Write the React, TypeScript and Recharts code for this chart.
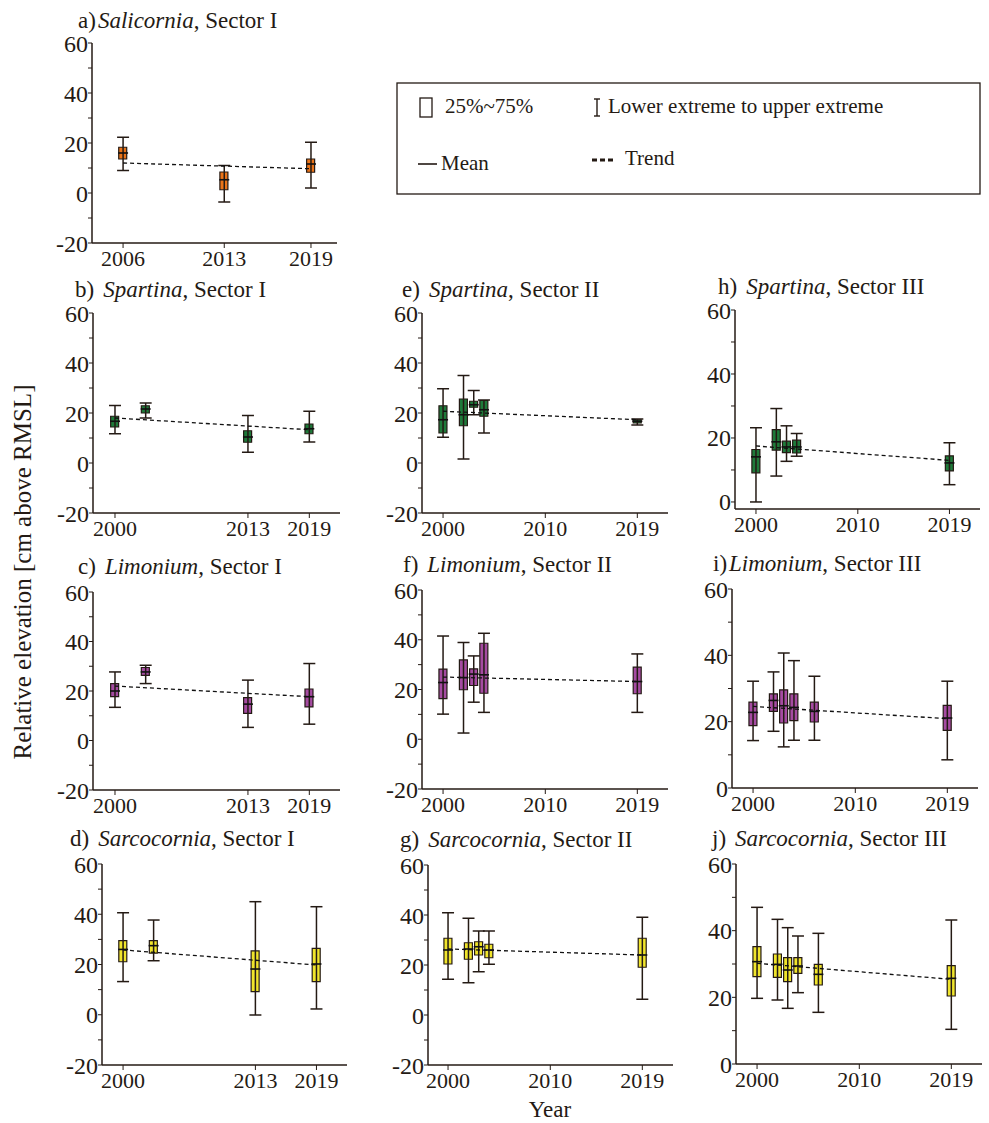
import React from 'react';
import { ComposedChart, XAxis, YAxis, Bar, Scatter, Line, ErrorBar } from 'recharts';

type Box = { year: number; min: number; q1: number; mean: number; q3: number; max: number };
type TrendPt = { year: number; value: number };

const salicorniaI: Box[] = [
  { year: 2006, min: 9, q1: 13.6, mean: 16, q3: 18.3, max: 22.3 },
  { year: 2013, min: -3.6, q1: 1.3, mean: 5.3, q3: 8.4, max: 11 },
  { year: 2019, min: 2, q1: 8.3, mean: 11.6, q3: 13.6, max: 20.3 },
];
const trendA: TrendPt[] = [{ year: 2006, value: 12 }, { year: 2019, value: 9.7 }];

const spartinaI: Box[] = [
  { year: 2000, min: 11.7, q1: 14.4, mean: 16.7, q3: 18.7, max: 23 },
  { year: 2003, min: 18, q1: 20, mean: 21.6, q3: 22.9, max: 24 },
  { year: 2013, min: 4.3, q1: 8.3, mean: 10.4, q3: 12.9, max: 19 },
  { year: 2019, min: 8.4, q1: 11.7, mean: 13.7, q3: 15.6, max: 20.7 },
];
const trendB: TrendPt[] = [{ year: 2000, value: 18 }, { year: 2019, value: 13.3 }];

const limoniumI: Box[] = [
  { year: 2000, min: 13.4, q1: 17.7, mean: 20, q3: 23, max: 27.7 },
  { year: 2003, min: 23, q1: 26.3, mean: 27.7, q3: 29.5, max: 30.4 },
  { year: 2013, min: 5.3, q1: 11, mean: 14.7, q3: 17.3, max: 24.4 },
  { year: 2019, min: 6.6, q1: 13.6, mean: 17.7, q3: 20.8, max: 31.1 },
];
const trendC: TrendPt[] = [{ year: 2000, value: 22 }, { year: 2019, value: 17.7 }];

const sarcocorniaI: Box[] = [
  { year: 2000, min: 13.2, q1: 21.1, mean: 26, q3: 29.5, max: 40.6 },
  { year: 2003, min: 21.5, q1: 24.5, mean: 27.5, q3: 29.5, max: 37.7 },
  { year: 2013, min: -0.1, q1: 9.2, mean: 18.2, q3: 25.4, max: 45 },
  { year: 2019, min: 2.3, q1: 13.2, mean: 20.2, q3: 26.4, max: 43 },
];
const trendD: TrendPt[] = [{ year: 2000, value: 25.8 }, { year: 2019, value: 19.8 }];

const spartinaII: Box[] = [
  { year: 2000, min: 10.3, q1: 12, mean: 17.3, q3: 22.9, max: 29.7 },
  { year: 2002, min: 1.6, q1: 14.9, mean: 19.3, q3: 25.6, max: 35 },
  { year: 2003, min: 19.3, q1: 22.3, mean: 23.3, q3: 24.7, max: 29 },
  { year: 2004, min: 12, q1: 18.7, mean: 21.3, q3: 25, max: 25.2 },
  { year: 2019, min: 15.2, q1: 16, mean: 16.7, q3: 17.3, max: 17.6 },
];
const trendE: TrendPt[] = [{ year: 2000, value: 20.7 }, { year: 2019, value: 17.3 }];

const limoniumII: Box[] = [
  { year: 2000, min: 10.1, q1: 16.3, mean: 22.8, q3: 28.2, max: 41.5 },
  { year: 2002, min: 2.5, q1: 19.9, mean: 24.8, q3: 31.9, max: 38.9 },
  { year: 2003, min: 14.9, q1: 21.6, mean: 26.2, q3: 28.3, max: 33.5 },
  { year: 2004, min: 10.8, q1: 18.5, mean: 25.9, q3: 38.6, max: 42.6 },
  { year: 2019, min: 10.8, q1: 18.3, mean: 23.2, q3: 29, max: 34.3 },
];
const trendF: TrendPt[] = [{ year: 2000, value: 25 }, { year: 2019, value: 23.2 }];

const sarcocorniaII: Box[] = [
  { year: 2000, min: 14.3, q1: 20.4, mean: 26, q3: 30.7, max: 40.9 },
  { year: 2002, min: 12.9, q1: 22.3, mean: 26.4, q3: 28.9, max: 38.7 },
  { year: 2003, min: 17.3, q1: 24, mean: 27.3, q3: 29.3, max: 33.6 },
  { year: 2004, min: 20.3, q1: 22.9, mean: 26, q3: 28.3, max: 33.6 },
  { year: 2019, min: 6.3, q1: 19.1, mean: 24, q3: 30.7, max: 39.1 },
];
const trendG: TrendPt[] = [{ year: 2000, value: 26.4 }, { year: 2019, value: 24 }];

const spartinaIII: Box[] = [
  { year: 2000, min: 0, q1: 9.1, mean: 14.1, q3: 16.4, max: 23.2 },
  { year: 2002, min: 8.1, q1: 16.2, mean: 18.8, q3: 22.6, max: 29.2 },
  { year: 2003, min: 12.7, q1: 15.4, mean: 17.2, q3: 19, max: 23.8 },
  { year: 2004, min: 14.3, q1: 15.3, mean: 17.2, q3: 19.3, max: 21.4 },
  { year: 2019, min: 5.4, q1: 9.7, mean: 12.2, q3: 14.4, max: 18.5 },
];
const trendH: TrendPt[] = [{ year: 2000, value: 17.5 }, { year: 2019, value: 13 }];

const limoniumIII: Box[] = [
  { year: 2000, min: 14.3, q1: 18.8, mean: 22.8, q3: 25.9, max: 32.2 },
  { year: 2002, min: 17.1, q1: 23.1, mean: 26.4, q3: 28.4, max: 35 },
  { year: 2003, min: 12.4, q1: 19.6, mean: 24.8, q3: 29.6, max: 40.7 },
  { year: 2004, min: 14.4, q1: 20.3, mean: 24.3, q3: 28.4, max: 38.4 },
  { year: 2006, min: 14.4, q1: 19.9, mean: 23.1, q3: 25.9, max: 33.7 },
  { year: 2019, min: 8.5, q1: 17.4, mean: 21.1, q3: 24.9, max: 32.2 },
];
const trendI: TrendPt[] = [{ year: 2000, value: 24.6 }, { year: 2019, value: 20.9 }];

const sarcocorniaIII: Box[] = [
  { year: 2000, min: 19.7, q1: 26.2, mean: 30.7, q3: 35.2, max: 47 },
  { year: 2002, min: 19.2, q1: 26, mean: 29.9, q3: 33, max: 43.4 },
  { year: 2003, min: 16.7, q1: 24.7, mean: 28.2, q3: 31.9, max: 40.9 },
  { year: 2004, min: 21.4, q1: 27.2, mean: 29.4, q3: 31.9, max: 38.4 },
  { year: 2006, min: 15.5, q1: 23.7, mean: 26.9, q3: 29.9, max: 39.2 },
  { year: 2019, min: 10.4, q1: 20.4, mean: 25.7, q3: 29.5, max: 43.2 },
];
const trendJ: TrendPt[] = [{ year: 2000, value: 30.2 }, { year: 2019, value: 25.4 }];

const ticksA = [2006, 2013, 2019];
const ticksSectorI = [2000, 2013, 2019];
const ticksSectorII = [2000, 2010, 2019];
const yTicksFull = [-20, -10, 0, 10, 20, 30, 40, 50, 60];
const yTicksZero = [0, 10, 20, 30, 40, 50, 60];

const ORANGE = '#EA7419';
const GREEN = '#1E7A3A';
const PURPLE = '#A54BA2';
const YELLOW = '#F0E52C';
const INK = '#241a14';
const FONT = '"Liberation Serif", "Times New Roman", serif';

const YW = 50;
const MT = 20;
const MR = 10;
const XH = 40;

const MeanMark = (props: any) => {
  const { cx, cy } = props;
  if (cx == null || cy == null) return <g />;
  return <line x1={cx - 5} x2={cx + 5} y1={cy} y2={cy} stroke="#111" strokeWidth={1.6} />;
};
const NoShape = () => <g />;

type PanelProps = {
  plotLeft: number;
  plotTop: number;
  plotW: number;
  plotH: number;
  xDomain: [number, number];
  xTicks: number[];
  yDomain: [number, number];
  yTicks: number[];
  data: Box[];
  trend: TrendPt[];
  color: string;
};

function Panel(p: PanelProps) {
  const rows = p.data.map((d) => ({
    ...d,
    box: [d.q1, d.q3],
    err: [d.mean - d.min, d.max - d.mean],
  }));
  const width = YW + p.plotW + MR;
  const height = MT + p.plotH + XH;
  return (
    <div style={{ position: 'absolute', left: p.plotLeft - YW, top: p.plotTop - MT, width, height }}>
      <ComposedChart width={width} height={height} data={rows} margin={{ top: MT, right: MR, bottom: 0, left: 0 }}>
        <XAxis
          type="number"
          dataKey="year"
          domain={p.xDomain}
          ticks={p.xTicks}
          interval={0}
          allowDataOverflow
          height={XH}
          tickSize={5}
          tickMargin={2}
          axisLine={{ stroke: INK, strokeWidth: 1.5 }}
          tickLine={{ stroke: INK }}
          tick={{ fontSize: 22, fill: INK, fontFamily: FONT }}
        />
        <YAxis
          type="number"
          domain={p.yDomain}
          ticks={p.yTicks}
          interval={0}
          allowDataOverflow
          width={YW}
          tickSize={4}
          tickMargin={0}
          tickFormatter={(v: number) => (v % 20 === 0 ? String(v) : '')}
          axisLine={{ stroke: INK, strokeWidth: 1.5 }}
          tickLine={{ stroke: INK }}
          tick={{ fontSize: 24, fill: INK, fontFamily: FONT }}
        />
        <Scatter dataKey="mean" shape={NoShape} isAnimationActive={false}>
          <ErrorBar dataKey="err" direction="y" width={6} stroke={INK} strokeWidth={1.5} />
        </Scatter>
        <Bar dataKey="box" barSize={8} fill={p.color} stroke={INK} strokeWidth={1.2} isAnimationActive={false} />
        <Line
          data={p.trend}
          dataKey="value"
          type="linear"
          stroke="#111"
          strokeWidth={1.3}
          strokeDasharray="4 3"
          dot={false}
          activeDot={false}
          isAnimationActive={false}
        />
        <Scatter dataKey="mean" shape={MeanMark} isAnimationActive={false} />
      </ComposedChart>
    </div>
  );
}

const Title = ({ x, y, pre, genus, sector, gap }: { x: number; y: number; pre: string; genus: string; sector: string; gap: number }) => (
  <text x={x} y={y} fontSize={23} fill={INK} fontFamily={FONT}>
    <tspan>{pre}</tspan>
    <tspan dx={gap} fontStyle="italic">{genus}</tspan>
    <tspan>{sector}</tspan>
  </text>
);

const SPAN_I: [number, number] = [1997.85, 2022];
const SPAN_II: [number, number] = [1997.94, 2022];

export default function App() {
  return (
    <div style={{ position: 'absolute', left: 0, top: 0, width: 989, height: 1123, background: '#fff', overflow: 'hidden' }}>
      <Panel plotLeft={92} plotTop={43} plotW={245} plotH={200} xDomain={[2003.85, 2020.8]} xTicks={ticksA} yDomain={[-20, 60]} yTicks={yTicksFull} data={salicorniaI} trend={trendA} color={ORANGE} />
      <Panel plotLeft={93} plotTop={313} plotW={247} plotH={200} xDomain={SPAN_I} xTicks={ticksSectorI} yDomain={[-20, 60]} yTicks={yTicksFull} data={spartinaI} trend={trendB} color={GREEN} />
      <Panel plotLeft={93} plotTop={592} plotW={247} plotH={198} xDomain={SPAN_I} xTicks={ticksSectorI} yDomain={[-20, 60]} yTicks={yTicksFull} data={limoniumI} trend={trendC} color={PURPLE} />
      <Panel plotLeft={102} plotTop={864} plotW={245} plotH={201} xDomain={[1997.93, 2022]} xTicks={ticksSectorI} yDomain={[-20, 60]} yTicks={yTicksFull} data={sarcocorniaI} trend={trendD} color={YELLOW} />

      <Panel plotLeft={422} plotTop={313} plotW={246} plotH={200} xDomain={SPAN_II} xTicks={ticksSectorII} yDomain={[-20, 60]} yTicks={yTicksFull} data={spartinaII} trend={trendE} color={GREEN} />
      <Panel plotLeft={422} plotTop={590} plotW={246} plotH={199} xDomain={SPAN_II} xTicks={ticksSectorII} yDomain={[-20, 60]} yTicks={yTicksFull} data={limoniumII} trend={trendF} color={PURPLE} />
      <Panel plotLeft={428} plotTop={865} plotW={245} plotH={200} xDomain={[1998.04, 2022]} xTicks={ticksSectorII} yDomain={[-20, 60]} yTicks={yTicksFull} data={sarcocorniaII} trend={trendG} color={YELLOW} />

      <Panel plotLeft={735} plotTop={310} plotW={245} plotH={199} xDomain={SPAN_II} xTicks={ticksSectorII} yDomain={[-2.2, 60]} yTicks={yTicksZero} data={spartinaIII} trend={trendH} color={GREEN} />
      <Panel plotLeft={732} plotTop={589} plotW={246} plotH={199} xDomain={SPAN_II} xTicks={ticksSectorII} yDomain={[0, 60]} yTicks={yTicksZero} data={limoniumIII} trend={trendI} color={PURPLE} />
      <Panel plotLeft={736} plotTop={864} plotW={246} plotH={200} xDomain={SPAN_II} xTicks={ticksSectorII} yDomain={[0, 60]} yTicks={yTicksZero} data={sarcocorniaIII} trend={trendJ} color={YELLOW} />

      <svg width={989} height={1123} style={{ position: 'absolute', left: 0, top: 0, pointerEvents: 'none' }}>
        <Title x={78} y={28} pre="a)" gap={2} genus="Salicornia" sector=", Sector I" />
        <Title x={75} y={297} pre="b)" gap={9} genus="Spartina" sector=", Sector I" />
        <Title x={78} y={574} pre="c)" gap={9} genus="Limonium" sector=", Sector I" />
        <Title x={70} y={846} pre="d)" gap={9} genus="Sarcocornia" sector=", Sector I" />
        <Title x={402} y={297} pre="e)" gap={9} genus="Spartina" sector=", Sector II" />
        <Title x={403} y={572} pre="f)" gap={9} genus="Limonium" sector=", Sector II" />
        <Title x={400} y={847} pre="g)" gap={9} genus="Sarcocornia" sector=", Sector II" />
        <Title x={718} y={294} pre="h)" gap={9} genus="Spartina" sector=", Sector III" />
        <Title x={713} y={571} pre="i)" gap={2} genus="Limonium" sector=", Sector III" />
        <Title x={712} y={846} pre="j)" gap={9} genus="Sarcocornia" sector=", Sector III" />

        <g transform="translate(31,572) rotate(-90)">
          <text x={0} y={0} textAnchor="middle" fontSize={25} fill={INK} fontFamily={FONT}>
            Relative elevation [cm above RMSL]
          </text>
        </g>
        <text x={550} y={1117} textAnchor="middle" fontSize={23} fill={INK} fontFamily={FONT}>Year</text>

        <rect x={397} y={83} width={583} height={111} fill="none" stroke={INK} strokeWidth={1.3} />
        <rect x={420} y={98} width={12} height={19} fill="none" stroke={INK} strokeWidth={1.3} />
        <text x={445} y={113} fontSize={21} fill={INK} fontFamily={FONT}>25%~75%</text>
        <line x1={597} x2={597} y1={99} y2={116} stroke={INK} strokeWidth={1.4} />
        <line x1={594} x2={600} y1={99} y2={99} stroke={INK} strokeWidth={1.4} />
        <line x1={594} x2={600} y1={116} y2={116} stroke={INK} strokeWidth={1.4} />
        <text x={608} y={113} fontSize={21} fill={INK} fontFamily={FONT}>Lower extreme to upper extreme</text>
        <line x1={418} x2={437} y1={164} y2={164} stroke={INK} strokeWidth={1.6} />
        <text x={441} y={170} fontSize={21} fill={INK} fontFamily={FONT}>Mean</text>
        <line x1={592} x2={613} y1={160} y2={160} stroke={INK} strokeWidth={3} strokeDasharray="5 3" />
        <text x={625} y={165} fontSize={21} fill={INK} fontFamily={FONT}>Trend</text>
      </svg>
    </div>
  );
}
